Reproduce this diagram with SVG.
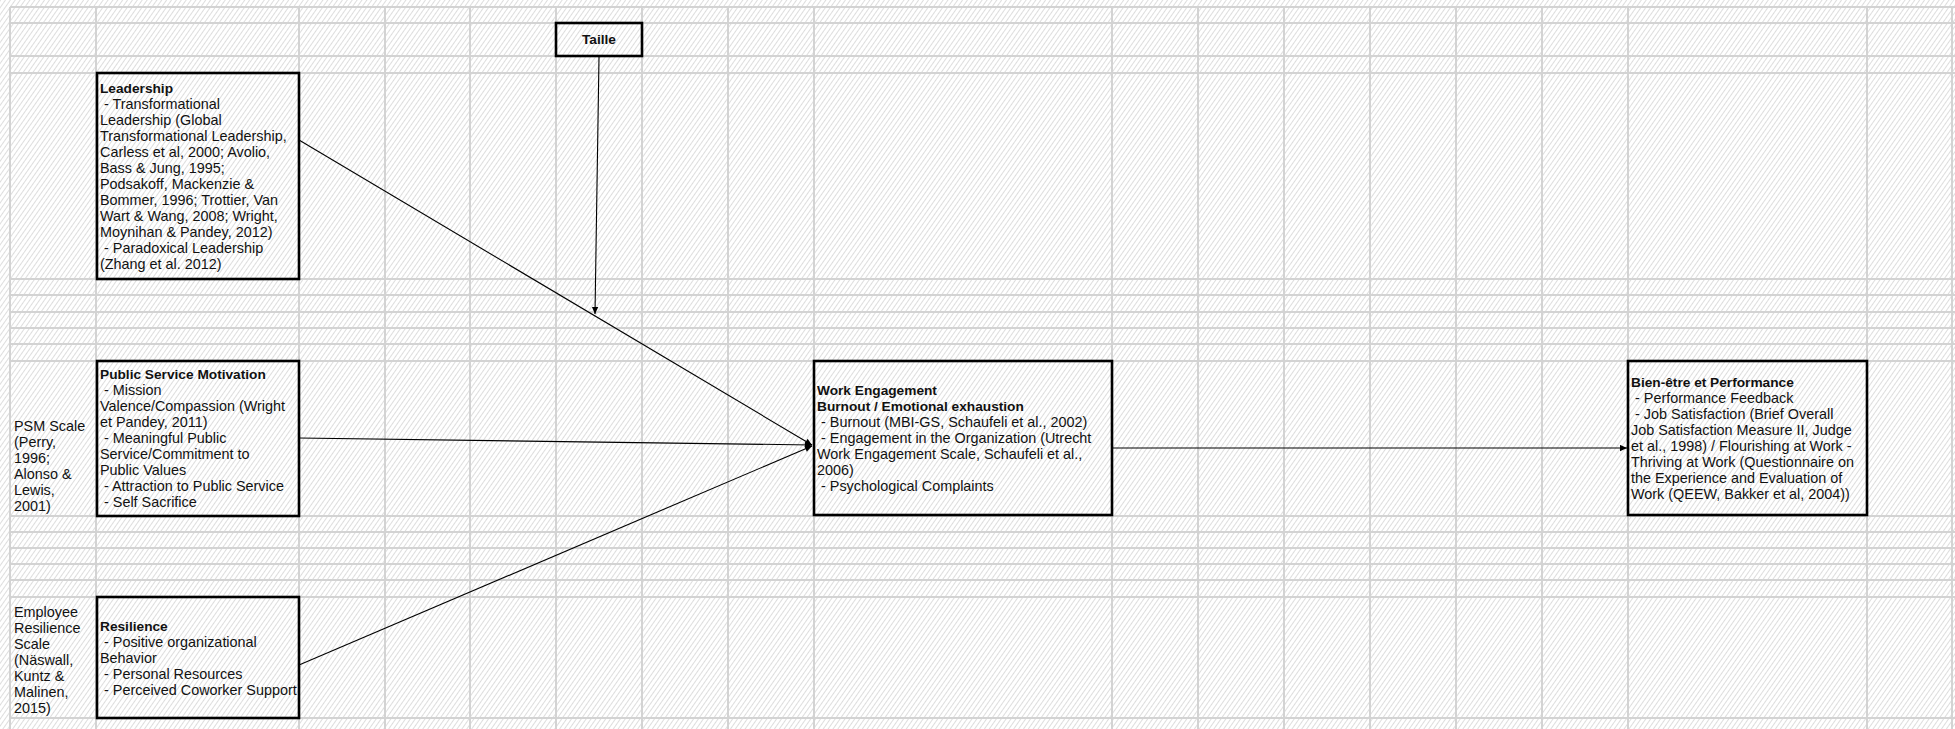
<svg xmlns="http://www.w3.org/2000/svg" width="1955" height="729" viewBox="0 0 1955 729">
<defs>
<pattern id="hatch" patternUnits="userSpaceOnUse" width="4" height="4" patternTransform="rotate(35)">
<rect width="4" height="4" fill="#ffffff"/>
<line x1="0" y1="0" x2="0" y2="4" stroke="#d2d2d2" stroke-width="1.5"/>
</pattern>
<marker id="arr" viewBox="0 0 10 10" refX="10" refY="5" markerWidth="8" markerHeight="7" orient="auto" markerUnits="userSpaceOnUse">
<path d="M0,0.5 L10,5 L0,9.5 z" fill="#000"/>
</marker>
<style>
.grid line{stroke:#d3d3d3;stroke-width:2}
.box{fill:none;stroke:#000;stroke-width:2.6}
.t{font-family:"Liberation Sans",Arial,sans-serif;font-size:14.4px;fill:#111}
.b{font-weight:bold;font-size:13.7px}
.conn line{stroke:#000;stroke-width:1.1;marker-end:url(#arr)}
</style>
</defs>
<rect width="1955" height="729" fill="url(#hatch)"/>
<g class="grid" id="grid">
<line x1="10" y1="7" x2="1955" y2="7"/>
<line x1="10" y1="23" x2="1955" y2="23"/>
<line x1="10" y1="56" x2="1955" y2="56"/>
<line x1="10" y1="73" x2="1955" y2="73"/>
<line x1="10" y1="279" x2="1955" y2="279"/>
<line x1="10" y1="295" x2="1955" y2="295"/>
<line x1="10" y1="312" x2="1955" y2="312"/>
<line x1="10" y1="328" x2="1955" y2="328"/>
<line x1="10" y1="344" x2="1955" y2="344"/>
<line x1="10" y1="361" x2="1955" y2="361"/>
<line x1="10" y1="516" x2="1955" y2="516"/>
<line x1="10" y1="532" x2="1955" y2="532"/>
<line x1="10" y1="548" x2="1955" y2="548"/>
<line x1="10" y1="564" x2="1955" y2="564"/>
<line x1="10" y1="580" x2="1955" y2="580"/>
<line x1="10" y1="597" x2="1955" y2="597"/>
<line x1="10" y1="718" x2="1955" y2="718"/>
<line x1="10" y1="7" x2="10" y2="729"/>
<line x1="96" y1="7" x2="96" y2="729"/>
<line x1="299" y1="7" x2="299" y2="729"/>
<line x1="385" y1="7" x2="385" y2="729"/>
<line x1="470" y1="7" x2="470" y2="729"/>
<line x1="556" y1="7" x2="556" y2="729"/>
<line x1="642" y1="7" x2="642" y2="729"/>
<line x1="728" y1="7" x2="728" y2="729"/>
<line x1="814" y1="7" x2="814" y2="729"/>
<line x1="1112" y1="7" x2="1112" y2="729"/>
<line x1="1198" y1="7" x2="1198" y2="729"/>
<line x1="1284" y1="7" x2="1284" y2="729"/>
<line x1="1370" y1="7" x2="1370" y2="729"/>
<line x1="1456" y1="7" x2="1456" y2="729"/>
<line x1="1542" y1="7" x2="1542" y2="729"/>
<line x1="1628" y1="7" x2="1628" y2="729"/>
<line x1="1867" y1="7" x2="1867" y2="729"/>
<line x1="1952" y1="7" x2="1952" y2="729"/>
</g>
<g id="scale-labels">
<text class="t" x="14" y="431">PSM Scale</text>
<text class="t" x="14" y="447">(Perry,</text>
<text class="t" x="14" y="463">1996;</text>
<text class="t" x="14" y="479">Alonso &amp;</text>
<text class="t" x="14" y="495">Lewis,</text>
<text class="t" x="14" y="511">2001)</text>
<text class="t" x="14" y="617">Employee</text>
<text class="t" x="14" y="633">Resilience</text>
<text class="t" x="14" y="649">Scale</text>
<text class="t" x="14" y="665">(Näswall,</text>
<text class="t" x="14" y="681">Kuntz &amp;</text>
<text class="t" x="14" y="697">Malinen,</text>
<text class="t" x="14" y="713">2015)</text>
</g>
<g id="taille">
<rect class="box" x="556" y="23" width="86" height="33"/>
<text class="t b" x="599" y="44" text-anchor="middle">Taille</text>
</g>
<g id="leadership">
<rect class="box" x="97" y="73" width="202" height="206"/>
<text class="t b" x="100" y="93">Leadership</text>
<text class="t" x="100" y="109" xml:space="preserve"> - Transformational</text>
<text class="t" x="100" y="125">Leadership (Global</text>
<text class="t" x="100" y="141">Transformational Leadership,</text>
<text class="t" x="100" y="157">Carless et al, 2000; Avolio,</text>
<text class="t" x="100" y="173">Bass &amp; Jung, 1995;</text>
<text class="t" x="100" y="189">Podsakoff, Mackenzie &amp;</text>
<text class="t" x="100" y="205">Bommer, 1996; Trottier, Van</text>
<text class="t" x="100" y="221">Wart &amp; Wang, 2008; Wright,</text>
<text class="t" x="100" y="237">Moynihan &amp; Pandey, 2012)</text>
<text class="t" x="100" y="253" xml:space="preserve"> - Paradoxical Leadership</text>
<text class="t" x="100" y="269">(Zhang et al. 2012)</text>
</g>
<g id="psm">
<rect class="box" x="97" y="361" width="202" height="155"/>
<text class="t b" x="100" y="379">Public Service Motivation</text>
<text class="t" x="100" y="395" xml:space="preserve"> - Mission</text>
<text class="t" x="100" y="411">Valence/Compassion (Wright</text>
<text class="t" x="100" y="427">et Pandey, 2011)</text>
<text class="t" x="100" y="443" xml:space="preserve"> - Meaningful Public</text>
<text class="t" x="100" y="459">Service/Commitment to</text>
<text class="t" x="100" y="475">Public Values</text>
<text class="t" x="100" y="491" xml:space="preserve"> - Attraction to Public Service</text>
<text class="t" x="100" y="507" xml:space="preserve"> - Self Sacrifice</text>
</g>
<g id="resilience">
<rect class="box" x="97" y="597" width="202" height="121"/>
<text class="t b" x="100" y="631">Resilience</text>
<text class="t" x="100" y="647" xml:space="preserve"> - Positive organizational</text>
<text class="t" x="100" y="663">Behavior</text>
<text class="t" x="100" y="679" xml:space="preserve"> - Personal Resources</text>
<text class="t" x="100" y="695" xml:space="preserve"> - Perceived Coworker Support</text>
</g>
<g id="work-engagement">
<rect class="box" x="814" y="361" width="298" height="154"/>
<text class="t b" x="817" y="395">Work Engagement</text>
<text class="t b" x="817" y="411">Burnout / Emotional exhaustion</text>
<text class="t" x="817" y="427" xml:space="preserve"> - Burnout (MBI-GS, Schaufeli et al., 2002)</text>
<text class="t" x="817" y="443" xml:space="preserve"> - Engagement in the Organization (Utrecht</text>
<text class="t" x="817" y="459">Work Engagement Scale, Schaufeli et al.,</text>
<text class="t" x="817" y="475">2006)</text>
<text class="t" x="817" y="491" xml:space="preserve"> - Psychological Complaints</text>
</g>
<g id="bien-etre">
<rect class="box" x="1628" y="361" width="239" height="154"/>
<text class="t b" x="1631" y="387">Bien-être et Performance</text>
<text class="t" x="1631" y="403" xml:space="preserve"> - Performance Feedback</text>
<text class="t" x="1631" y="419" xml:space="preserve"> - Job Satisfaction (Brief Overall</text>
<text class="t" x="1631" y="435">Job Satisfaction Measure II, Judge</text>
<text class="t" x="1631" y="451">et al., 1998) / Flourishing at Work -</text>
<text class="t" x="1631" y="467">Thriving at Work (Questionnaire on</text>
<text class="t" x="1631" y="483">the Experience and Evaluation of</text>
<text class="t" x="1631" y="499">Work (QEEW, Bakker et al, 2004))</text>
</g>
<g class="conn" id="connectors">
<line x1="299" y1="140" x2="812" y2="445"/>
<line x1="599" y1="57" x2="595" y2="314"/>
<line x1="299" y1="438" x2="812" y2="445"/>
<line x1="299" y1="665" x2="812" y2="446"/>
<line x1="1112" y1="448" x2="1627" y2="448"/>
</g>
</svg>
